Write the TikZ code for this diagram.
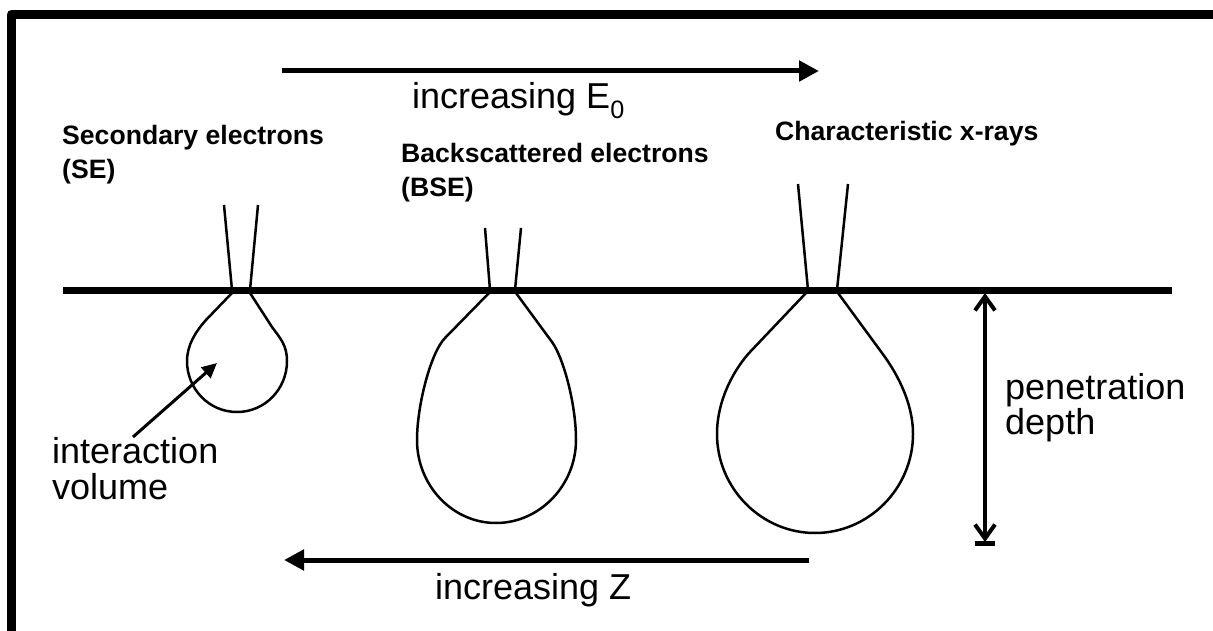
\documentclass[tikz,border=0pt]{standalone}
\usepackage{fontspec}
\setmainfont{Liberation Sans}
\usetikzlibrary{arrows.meta}

\tikzset{
  boldlabel/.style={font=\fontsize{26.6}{30}\selectfont\bfseries, anchor=base west, inner sep=0pt},
  plainlabel/.style={font=\fontsize{36}{36}\selectfont, anchor=base west, inner sep=0pt},
  bigarrow/.style={line width=5pt, -{Triangle[length=20pt,width=20pt]}},
  beam/.style={line width=2.5pt},
  bulb/.style={line width=2.5pt, line join=round},
}

\begin{document}
\begin{tikzpicture}[x=1pt, y=-1pt]
  \useasboundingbox (0,0) rectangle (1213,631);
  \fill[white] (0,0) rectangle (1213,631);

  % frame on the top and left
  \draw[line width=9pt, line join=round] (11.5,631) -- (11.5,14.5) -- (1213,14.5);

  % sample surface
  \coordinate (surfL) at (63,290);
  \coordinate (surfR) at (1172,290);
  \draw[line width=7pt] (surfL) -- (surfR);

  % increasing E0 arrow
  \coordinate (eStart) at (282,71);
  \coordinate (eEnd) at (819,71);
  \draw[bigarrow] (eStart) -- (eEnd);
  \node[plainlabel] (eLabel) at (412,109) {increasing E\textsubscript{0}};

  % signal labels
  \node[boldlabel] (se1) at (62,145) {Secondary electrons};
  \node[boldlabel] (se2) at (62,179) {(SE)};
  \node[boldlabel] (bse1) at (401,163) {Backscattered electrons};
  \node[boldlabel] (bse2) at (401,197) {(BSE)};
  \node[boldlabel] (xr) at (775,141) {Characteristic x-rays};

  % incident beams
  \draw[beam] (224,205) -- (232,290);
  \draw[beam] (258,205) -- (250,290);
  \draw[beam] (485,228) -- (490,290);
  \draw[beam] (521,228) -- (515,290);
  \draw[beam] (798,184) -- (808,290);
  \draw[beam] (848,184) -- (837,290);

  % interaction volumes
  \draw[bulb] (232,293) -- (206,320)
    .. controls (196,331) and (187,345) .. (187,361)
    .. controls (187,389) and (209,412) .. (237,412)
    .. controls (265,412) and (287,389) .. (287,361)
    .. controls (287,345) and (280,338) .. (272,327) -- (250,293);

  \draw[bulb] (489,293) -- (445,338)
    .. controls (431,352) and (417,405) .. (417,440)
    .. controls (417,485) and (452,523) .. (496,523)
    .. controls (540,523) and (576,485) .. (576,440)
    .. controls (576,403) and (563,357) .. (552,342) -- (516,293);

  \draw[bulb] (806,293) -- (750,352)
    .. controls (736,367) and (717,398) .. (717,434)
    .. controls (717,488) and (761,533) .. (815,533)
    .. controls (869,533) and (913,488) .. (913,434)
    .. controls (913,400) and (894,369) .. (882,353) -- (838,293);

  % interaction volume label and pointer
  \node[plainlabel] (int1) at (52,463) {interaction};
  \node[plainlabel] (int2) at (52,499) {volume};
  \coordinate (ptrTail) at (133,437);
  \coordinate (ptrTip) at (217,363);
  \draw[line width=3pt, -{Triangle[length=15pt,width=14pt]}] (ptrTail) -- (ptrTip);

  % penetration depth
  \coordinate (depTop) at (985,293);
  \coordinate (depBot) at (985,542);
  \draw[line width=4pt, {Straight Barb[length=14pt,width=20pt]}-{Straight Barb[length=14pt,width=20pt]}] (depTop) -- (depBot);
  \draw[line width=5pt] (975,543) -- (995,543);
  \node[plainlabel] (pen1) at (1005,399) {penetration};
  \node[plainlabel] (pen2) at (1005,434) {depth};

  % increasing Z arrow
  \coordinate (zStart) at (809,560);
  \coordinate (zEnd) at (284,560);
  \draw[bigarrow] (zStart) -- (zEnd);
  \node[plainlabel] (zLabel) at (435,599) {increasing Z};
\end{tikzpicture}
\end{document}
